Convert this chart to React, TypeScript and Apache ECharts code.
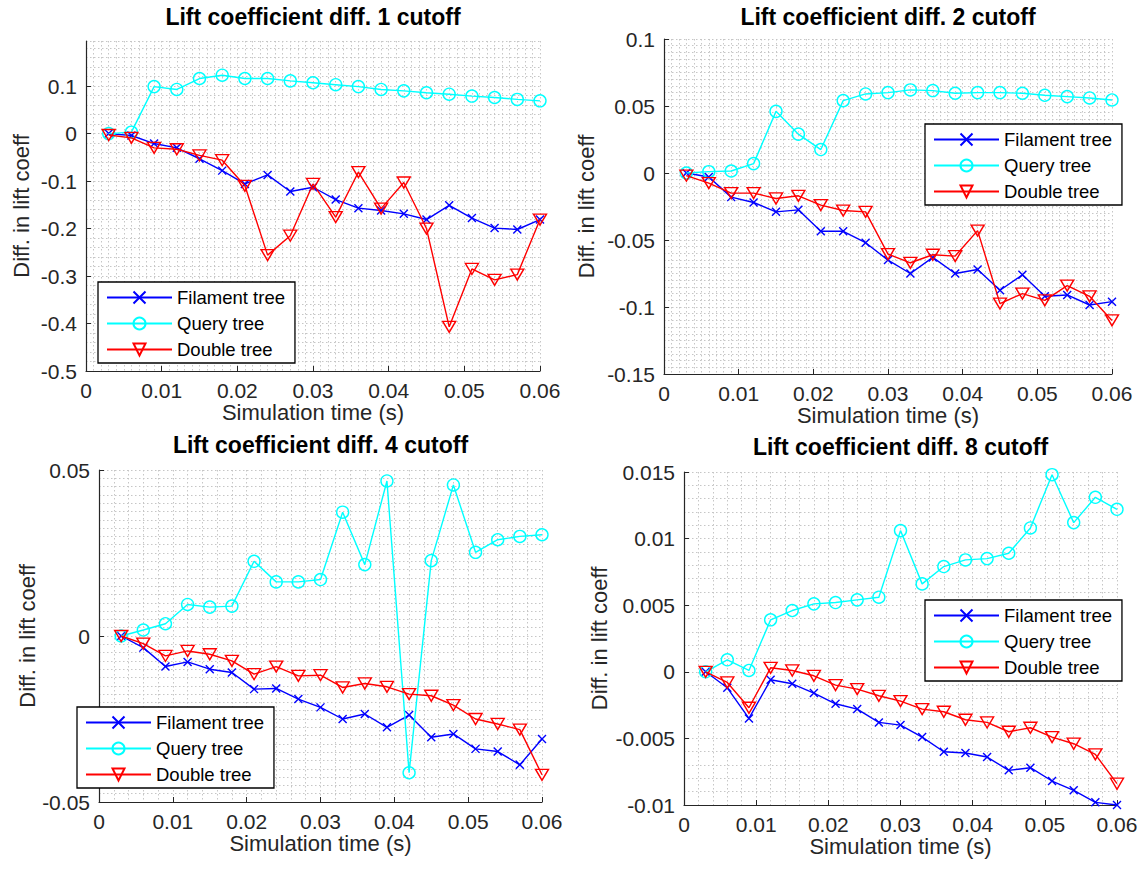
import React, { useEffect, useRef } from "react";
import * as echarts from "echarts";

// Simulation time stamps (s)
const simTime = [
  0.003, 0.006, 0.009, 0.012, 0.015, 0.018, 0.021, 0.024, 0.027, 0.03,
  0.033, 0.036, 0.039, 0.042, 0.045, 0.048, 0.051, 0.054, 0.057, 0.06,
];

const seriesNames = ["Filament tree", "Query tree", "Double tree"];

// 1 cutoff
const filament1 = [0, -0.004, -0.021, -0.03, -0.053, -0.078, -0.106, -0.087, -0.122, -0.113, -0.139, -0.157, -0.162, -0.169, -0.181, -0.151, -0.178, -0.199, -0.202, -0.181];
const query1 = [0, 0.003, 0.099, 0.093, 0.116, 0.123, 0.116, 0.116, 0.111, 0.107, 0.103, 0.099, 0.093, 0.09, 0.086, 0.083, 0.079, 0.076, 0.072, 0.069];
const double1 = [-0.003, -0.009, -0.03, -0.033, -0.046, -0.056, -0.11, -0.256, -0.215, -0.106, -0.176, -0.081, -0.158, -0.103, -0.2, -0.407, -0.285, -0.308, -0.297, -0.181];

// 2 cutoff
const filament2 = [0, -0.003, -0.018, -0.022, -0.029, -0.0275, -0.0435, -0.0435, -0.052, -0.065, -0.075, -0.063, -0.075, -0.072, -0.0875, -0.076, -0.092, -0.091, -0.0985, -0.096];
const query2 = [0, 0.001, 0.0015, 0.007, 0.046, 0.029, 0.0175, 0.054, 0.059, 0.06, 0.062, 0.0615, 0.0595, 0.06, 0.06, 0.0595, 0.058, 0.057, 0.056, 0.0545];
const double2 = [-0.002, -0.0075, -0.015, -0.015, -0.019, -0.017, -0.024, -0.028, -0.029, -0.0605, -0.067, -0.061, -0.062, -0.043, -0.0975, -0.09, -0.095, -0.084, -0.092, -0.11];

// 4 cutoff
const filament4 = [0, -0.0035, -0.0092, -0.0078, -0.01, -0.011, -0.016, -0.0158, -0.019, -0.0215, -0.025, -0.0235, -0.0275, -0.0238, -0.0305, -0.0295, -0.034, -0.0348, -0.0388, -0.031];
const query4 = [0, 0.0018, 0.0037, 0.0095, 0.0087, 0.009, 0.0225, 0.0163, 0.0163, 0.017, 0.0373, 0.0215, 0.0467, -0.0412, 0.0227, 0.0455, 0.0252, 0.029, 0.03, 0.0305];
const double4 = [0, -0.0023, -0.006, -0.0045, -0.0055, -0.0075, -0.0115, -0.0092, -0.012, -0.0118, -0.0155, -0.0143, -0.0153, -0.0175, -0.018, -0.0208, -0.025, -0.0265, -0.0282, -0.0418];

// 8 cutoff
const filament8 = [0, -0.0012, -0.0035, -0.0006, -0.0009, -0.0016, -0.0024, -0.0028, -0.0038, -0.004, -0.0049, -0.006, -0.0061, -0.0064, -0.0074, -0.0072, -0.0082, -0.0089, -0.0098, -0.01];
const query8 = [0, 0.0009, 0.0001, 0.0039, 0.0046, 0.0051, 0.0052, 0.0054, 0.0056, 0.0106, 0.0066, 0.0079, 0.0084, 0.0085, 0.0089, 0.0108, 0.0148, 0.0112, 0.0131, 0.0122];
const double8 = [0, -0.0008, -0.0027, 0.0003, 0.0001, -0.0003, -0.001, -0.0013, -0.0018, -0.0022, -0.0028, -0.003, -0.0036, -0.0038, -0.0045, -0.0042, -0.0049, -0.0054, -0.0062, -0.0084];

const titles = [
  "Lift coefficient diff. 1 cutoff",
  "Lift coefficient diff. 2 cutoff",
  "Lift coefficient diff. 4 cutoff",
  "Lift coefficient diff. 8 cutoff",
];

const xTicks = { min: 0, max: 0.06, interval: 0.01 };
const yRanges = [
  { min: -0.5, max: 0.195, interval: 0.1 },
  { min: -0.15, max: 0.1, interval: 0.05 },
  { min: -0.05, max: 0.05, interval: 0.05 },
  { min: -0.01, max: 0.015, interval: 0.005 },
];

const panelValues = [
  [filament1, query1, double1],
  [filament2, query2, double2],
  [filament4, query4, double4],
  [filament8, query8, double8],
];

const FONT = "'Liberation Sans', Arial, Helvetica, sans-serif";
const AXIS_COLOR = "#262626";
const GRID_COLOR = "#c6c6c6";

const BLUE = "#0000ff";
const CYAN = "#00ffff";
const RED = "#ff0000";

// plot rectangles and decorations for the 2x2 layout
const panels = [
  { grid: { left: 86, top: 41, width: 454, height: 330 }, titleTop: 5, yNameGap: 54, xMinor: 10, yMinor: 5, legend: { left: 98, top: 282 } },
  { grid: { left: 664, top: 39, width: 448, height: 335 }, titleTop: 5, yNameGap: 67, xMinor: 10, yMinor: 10, legend: { left: 925, top: 124 } },
  { grid: { left: 99, top: 470, width: 443, height: 332 }, titleTop: 433, yNameGap: 60, xMinor: 5, yMinor: 20, legend: { left: 77, top: 707 } },
  { grid: { left: 684, top: 472, width: 433, height: 333 }, titleTop: 435, yNameGap: 74, xMinor: 5, yMinor: 5, legend: { left: 925, top: 600 } },
];

const markerStyles = [
  { color: BLUE, symbol: "path://M0,0L10,10M0,10L10,0", symbolSize: 8 },
  { color: CYAN, symbol: "circle", symbolSize: 12 },
  { color: RED, symbol: "path://M0,0L12,0L6,10Z", symbolSize: [13, 11] },
];

function buildOption() {
  const grid = panels.map((p) => ({ ...p.grid, containLabel: false }));

  const title = panels.map((p, i) => ({
    text: titles[i],
    left: p.grid.left + p.grid.width / 2,
    top: p.titleTop,
    textAlign: "center",
    padding: 0,
    textStyle: { fontFamily: FONT, fontSize: 23, fontWeight: "bold", color: "#000" },
  }));

  const splitStyle = { color: GRID_COLOR, type: [1.5, 2.5], width: 1 };

  const xAxis = panels.map((p, i) => ({
    type: "value",
    gridIndex: i,
    min: xTicks.min,
    max: xTicks.max,
    interval: xTicks.interval,
    name: "Simulation time (s)",
    nameLocation: "middle",
    nameGap: 30,
    nameTextStyle: { fontFamily: FONT, fontSize: 22, color: AXIS_COLOR },
    axisLine: { show: true, onZero: false, lineStyle: { color: AXIS_COLOR, width: 1.2 } },
    axisTick: { show: true, inside: true, length: 5, lineStyle: { color: AXIS_COLOR } },
    axisLabel: { fontFamily: FONT, fontSize: 21, color: AXIS_COLOR, margin: 9 },
    splitLine: { show: true, lineStyle: splitStyle },
    minorTick: { show: false, splitNumber: p.xMinor },
    minorSplitLine: { show: true, lineStyle: splitStyle },
  }));

  const yAxis = panels.map((p, i) => ({
    type: "value",
    gridIndex: i,
    min: yRanges[i].min,
    max: yRanges[i].max,
    interval: yRanges[i].interval,
    name: "Diff. in lift coeff",
    nameLocation: "middle",
    nameGap: p.yNameGap,
    nameTextStyle: { fontFamily: FONT, fontSize: 22, color: AXIS_COLOR },
    axisLine: { show: true, lineStyle: { color: AXIS_COLOR, width: 1.2 } },
    axisTick: { show: true, inside: true, length: 5, lineStyle: { color: AXIS_COLOR } },
    axisLabel: { fontFamily: FONT, fontSize: 21, color: AXIS_COLOR, margin: 9, showMaxLabel: i !== 0 },
    splitLine: { show: true, lineStyle: splitStyle },
    minorTick: { show: false, splitNumber: p.yMinor },
    minorSplitLine: { show: true, lineStyle: splitStyle },
  }));

  const series: any[] = [];
  panelValues.forEach((group, i) => {
    group.forEach((values, k) => {
      const m = markerStyles[k];
      series.push({
        type: "line",
        name: seriesNames[k],
        xAxisIndex: i,
        yAxisIndex: i,
        data: simTime.map((t, j) => [t, values[j]]),
        symbol: m.symbol,
        symbolSize: m.symbolSize,
        showAllSymbol: true,
        lineStyle: { color: m.color, width: 1.4 },
        itemStyle: { color: "rgba(255,255,255,0)", borderColor: m.color, borderWidth: 1.4 },
        emphasis: { disabled: true },
        z: 3 + k,
      });
    });
  });

  const legend = panels.map((p) => ({
    data: seriesNames,
    left: p.legend.left,
    top: p.legend.top,
    orient: "vertical",
    itemWidth: 65,
    itemHeight: 15,
    itemGap: 7,
    padding: [6, 10, 4, 8],
    backgroundColor: "#ffffff",
    borderColor: "#000000",
    borderWidth: 1.3,
    borderRadius: 0,
    selectedMode: false,
    textStyle: { fontFamily: FONT, fontSize: 18.5, color: "#000" },
  }));

  return {
    animation: false,
    backgroundColor: "#ffffff",
    title,
    grid,
    xAxis,
    yAxis,
    legend,
    series,
  };
}

export default function App() {
  const ref = useRef<HTMLDivElement>(null);

  useEffect(() => {
    if (!ref.current) return;
    const chart = echarts.init(ref.current, undefined, { renderer: "svg" });
    chart.setOption(buildOption() as any);
    return () => chart.dispose();
  }, []);

  return (
    <div
      ref={ref}
      style={{ position: "absolute", left: 0, top: 0, width: 1142, height: 871 }}
    />
  );
}
